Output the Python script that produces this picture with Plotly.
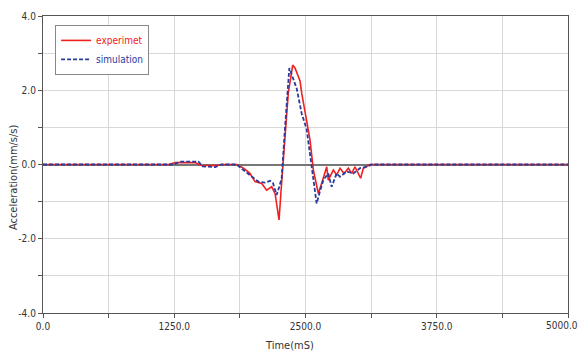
import plotly.graph_objects as go

# Experiment series (red)
exp_x = [0, 1200, 1260, 1450, 1500, 1650, 1700, 1845, 1910, 1971, 2019, 2083, 2130, 2178, 2210, 2248,
         2270, 2289, 2336, 2378, 2400, 2448, 2465, 2500, 2543, 2575, 2622, 2655, 2686, 2702, 2717, 2765,
         2797, 2829, 2867, 2908, 2940, 2971, 3025, 3051, 3114, 5000]
exp_y = [0, 0, 0.05, 0.05, -0.02, -0.03, 0, 0, -0.1, -0.24, -0.46, -0.51, -0.69, -0.6, -0.78, -1.49,
         -0.6, 0.2, 1.92, 2.68, 2.6, 2.25, 1.9, 1.35, 0.66, -0.15, -0.78, -0.5, -0.24, -0.06, -0.42, -0.15,
         -0.28, -0.1, -0.24, -0.1, -0.24, -0.06, -0.37, -0.1, 0, 0]

# Simulation series (blue dashed)
sim_x = [0, 1250, 1300, 1480, 1520, 1640, 1700, 1845, 1908, 1987, 2051, 2114, 2162, 2190, 2225, 2250,
         2273, 2305, 2346, 2416, 2463, 2511, 2559, 2606, 2640, 2670, 2717, 2749, 2797, 2829, 2892, 2955,
         3019, 3083, 3130, 5000]
sim_y = [0, 0, 0.08, 0.08, -0.05, -0.07, 0, 0, -0.15, -0.33, -0.46, -0.49, -0.44, -0.5, -0.82, -0.6,
         -0.37, 1.0, 2.6, 2.05, 1.38, 0.95, -0.06, -1.05, -0.7, -0.42, -0.24, -0.6, -0.24, -0.33, -0.19, -0.24,
         -0.1, -0.06, 0, 0]

x_ticks = [0, 625, 1250, 1875, 2500, 3125, 3750, 4375, 5000]
x_labels = ["0.0", "", "1250.0", "", "2500.0", "", "3750.0", "", ""]
x_last_label = "5000.0"
y_ticks = [-4, -3, -2, -1, 0, 1, 2, 3, 4]
y_labels = ["-4.0", "", "-2.0", "", "0.0", "", "2.0", "", "4.0"]

font_fam = "DejaVu Sans Condensed, Liberation Sans Narrow, Arial Narrow, sans-serif"
tick_font = dict(family=font_fam, size=10, color="#333")

fig = go.Figure()
fig.add_trace(go.Scatter(x=exp_x, y=exp_y, mode="lines",
                         name="<span style='color:#f02020'>experimet</span>",
                         line=dict(color="#f02020", width=1.6)))
fig.add_trace(go.Scatter(x=sim_x, y=sim_y, mode="lines",
                         name="<span style='color:#2b3a9c'>simulation</span>",
                         line=dict(color="#2b3a9c", width=1.8, dash="4px,2px")))

axis_common = dict(showline=True, linecolor="#555", linewidth=1.2, mirror=True,
                   showgrid=True, gridcolor="#d8d8d8", gridwidth=1,
                   ticks="outside", ticklen=4, tickcolor="#555", automargin=False,
                   tickfont=tick_font)

fig.update_xaxes(range=[0, 5000], tickmode="array", tickvals=x_ticks, ticktext=x_labels,
                 zeroline=False, **axis_common)
fig.update_yaxes(range=[-4, 4], tickmode="array", tickvals=y_ticks, ticktext=y_labels,
                 zeroline=True, zerolinecolor="#777", zerolinewidth=1.5, **axis_common)

# last x tick label placed so that it stays inside the page
fig.add_annotation(text=x_last_label, xref="paper", yref="paper", x=1.0225, y=-0.042,
                   xanchor="right", yanchor="middle", showarrow=False, font=tick_font)
fig.add_annotation(text="Time(mS)", xref="paper", yref="paper", x=0.47, y=-0.111,
                   xanchor="center", yanchor="middle", showarrow=False,
                   font=dict(family=font_fam, size=11, color="#333"))
fig.add_annotation(text="Acceleration(mm/s/s)", xref="paper", yref="paper", x=-0.055, y=0.458,
                   xanchor="center", yanchor="middle", showarrow=False, textangle=-90,
                   font=dict(family=font_fam, size=11, color="#333"))

fig.update_layout(
    width=580, height=354,
    margin=dict(l=43, r=12, t=16, b=41),
    paper_bgcolor="white", plot_bgcolor="white",
    showlegend=True,
    legend=dict(x=0.023, y=0.97, xanchor="left", yanchor="top",
                bgcolor="white", bordercolor="#888", borderwidth=1,
                font=dict(family=font_fam, size=10), tracegroupgap=0,
                itemwidth=30),
)

fig.write_html("out.html", config={"displayModeBar": False})

# remove default page margin so the figure sits at the window origin
with open("out.html", "r", encoding="utf-8") as f:
    html = f.read()
html = html.replace("<body>", "<body style=\"margin:0;padding:0;\">", 1)
with open("out.html", "w", encoding="utf-8") as f:
    f.write(html)
